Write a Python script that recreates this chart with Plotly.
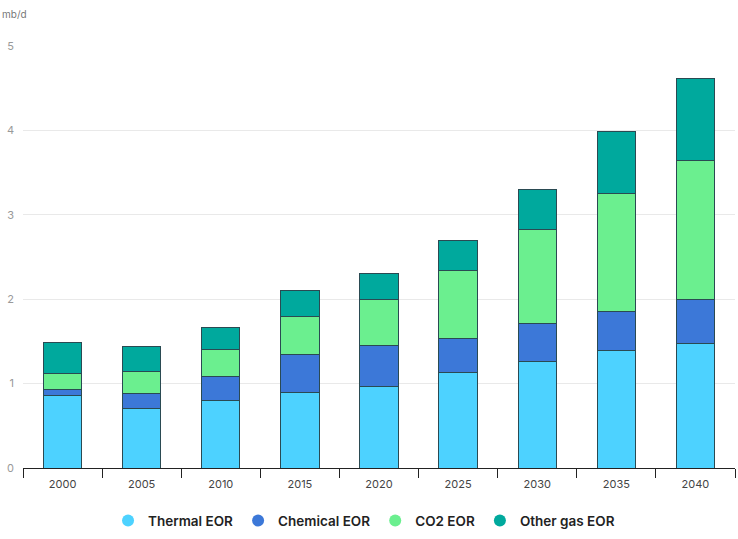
import plotly.graph_objects as go

years = ["2000", "2005", "2010", "2015", "2020", "2025", "2030", "2035", "2040"]
thermal = [0.86, 0.71, 0.80, 0.90, 0.97, 1.13, 1.26, 1.39, 1.47]
chemical = [0.07, 0.17, 0.29, 0.45, 0.48, 0.40, 0.45, 0.47, 0.53]
co2 = [0.19, 0.26, 0.31, 0.44, 0.55, 0.81, 1.11, 1.39, 1.64]
other_gas = [0.37, 0.30, 0.27, 0.31, 0.31, 0.36, 0.48, 0.74, 0.98]

series = [
    ("Thermal EOR", thermal, "#4dd2ff"),
    ("Chemical EOR", chemical, "#3c78d8"),
    ("CO2 EOR", co2, "#6bef8f"),
    ("Other gas EOR", other_gas, "#00a99d"),
]

fig = go.Figure()
for name, vals, color in series:
    fig.add_trace(go.Bar(
        x=years, y=vals, name=name, showlegend=False,
        marker=dict(color=color, line=dict(color="#2a4a52", width=1)),
        hovertemplate="%{x}: %{y} mb/d<extra>" + name + "</extra>",
    ))
for name, vals, color in series:
    fig.add_trace(go.Scatter(
        x=[None], y=[None], mode="markers", name=name,
        marker=dict(symbol="circle", size=13, color=color),
    ))

fig.update_layout(
    width=738, height=539,
    barmode="stack", bargap=0.515,
    plot_bgcolor="white", paper_bgcolor="white",
    margin=dict(l=23, r=3, t=46, b=68),
    font=dict(family="Inter, Roboto, sans-serif", color="#555"),
    legend=dict(
        orientation="h", x=0.479, xanchor="center",
        y=-0.125, yanchor="middle",
        font=dict(size=13.5, color="#222", weight=600),
        itemsizing="constant", itemwidth=30, tracegroupgap=0,
        traceorder="normal",
    ),
    annotations=[dict(
        text="mb/d", xref="paper", yref="paper", x=-0.032, y=1.077,
        xanchor="left", yanchor="middle", showarrow=False,
        font=dict(size=10, color="#777"),
    )],
)
fig.update_xaxes(
    type="category", showline=True, linecolor="#222", linewidth=1,
    ticks="outside", tickson="boundaries", ticklen=9, tickcolor="#222",
    tickfont=dict(size=11, color="#444"), showgrid=False, automargin=False,
    ticklabelstandoff=6,
)
fig.update_yaxes(
    range=[0, 5], dtick=1, showgrid=True, gridcolor="#e9e9e9", gridwidth=1,
    zeroline=False, tickfont=dict(size=11, color="#999"), ticklabelstandoff=8,
    showline=False, automargin=False,
)

fig.write_html("out.html", config={"displayModeBar": False},
               post_script="document.body.style.margin='0';")
